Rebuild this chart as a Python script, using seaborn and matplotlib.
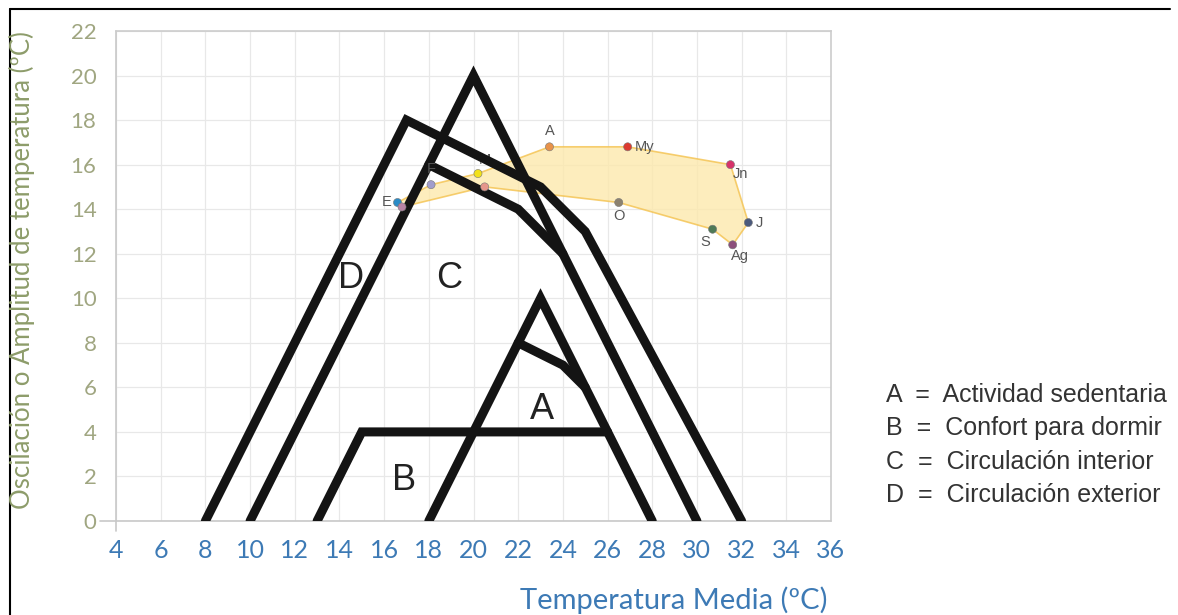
import numpy as np
import pandas as pd
import matplotlib.pyplot as plt
import seaborn as sns
from matplotlib.lines import Line2D

# zone outlines (temperatura media, oscilacion)
zone_d_x = [8, 17, 23, 25, 32]
zone_d_y = [0, 18, 15, 13, 0]
zone_c_x = [10, 20, 30]
zone_c_y = [0, 20, 0]
zone_c_inner_x = [18, 22, 24]
zone_c_inner_y = [16, 14, 12]
zone_a_x = [18, 23, 28]
zone_a_y = [0, 10, 0]
zone_a_inner_x = [22, 24, 25]
zone_a_inner_y = [8, 7, 6]
zone_b_x = [13, 15, 26]
zone_b_y = [0, 4, 4]

# monthly climate points
months = ["E", "F", "M", "A", "My", "Jn", "J", "Ag", "S", "O", "N", "D"]
temp_media = [16.6, 18.1, 20.2, 23.4, 26.9, 31.5, 32.3, 31.6, 30.7, 26.5, 20.5, 16.8]
oscilacion = [14.3, 15.1, 15.6, 16.8, 16.8, 16.0, 13.4, 12.4, 13.1, 14.3, 15.0, 14.1]
month_colors = ["#2b8bc6", "#a19dcc", "#f2e11a", "#e8924a", "#dc3a2f", "#d6336a",
                "#4b5a7c", "#8c4f7c", "#4f7a56", "#8c8270", "#e6968c", "#b883a6"]

zone_names = ["A", "B", "C", "D"]
zone_desc = ["Actividad sedentaria", "Confort para dormir",
             "Circulación interior", "Circulación exterior"]

x_ticks = list(range(4, 37, 2))
y_ticks = list(range(0, 23, 2))

sns.set_style("white")
plt.rcParams["font.family"] = ["Lato", "DejaVu Sans"]

fig = plt.figure(figsize=(11.78, 6.15), dpi=100)
ax = fig.add_axes([116 / 1178, 1 - 521 / 615, (831 - 116) / 1178, 490 / 615])

segments = [
    ("D", zone_d_x, zone_d_y), ("C", zone_c_x, zone_c_y),
    ("C2", zone_c_inner_x, zone_c_inner_y), ("A", zone_a_x, zone_a_y),
    ("A2", zone_a_inner_x, zone_a_inner_y), ("B", zone_b_x, zone_b_y),
]
lines_df = pd.concat([pd.DataFrame({"seg": s, "x": xs, "y": ys}) for s, xs, ys in segments],
                     ignore_index=True)

# yellow climate polygon
ax.fill(temp_media, oscilacion, facecolor="#fde9ad", edgecolor="#f4c24e",
        lw=1.2, alpha=0.8, zorder=2)

sns.lineplot(data=lines_df, x="x", y="y", units="seg", estimator=None, sort=False,
             color="#141414", lw=6.5, ax=ax, zorder=3,
             solid_joinstyle="miter", solid_capstyle="round")

sns.scatterplot(x=temp_media, y=oscilacion, hue=months, palette=month_colors,
                legend=False, s=34, edgecolor="#777777", linewidth=0.4,
                ax=ax, zorder=5)

label_offsets = {
    "E": (-4, 0, "right", "center"), "F": (0, 6, "center", "bottom"),
    "M": (5, 5, "center", "bottom"), "A": (0, 6, "center", "bottom"),
    "My": (5, 0, "left", "center"), "Jn": (2, -2, "left", "top"),
    "J": (5, 0, "left", "center"), "Ag": (-1, -3, "left", "top"),
    "S": (-2, -4, "right", "top"), "O": (0, -5, "center", "top"),
}
for m, tx, ty in zip(months, temp_media, oscilacion):
    if m not in label_offsets:
        continue
    dx, dy, ha, va = label_offsets[m]
    ax.annotate(m, (tx, ty), xytext=(dx, dy), textcoords="offset points",
                ha=ha, va=va, fontsize=10.5, color="#555555",
                family=["Liberation Sans", "DejaVu Sans"],
                zorder=2.5 if m == "M" else 6)

# zone letters
for letter, lx, ly in [("D", 14.5, 10.9), ("C", 18.9, 10.9), ("A", 23.05, 5.0), ("B", 16.9, 1.8)]:
    ax.text(lx, ly, letter, fontsize=26, color="#222222", ha="center", va="center",
            family=["Liberation Sans", "DejaVu Sans"], zorder=4)

ax.set_xlim(4, 36)
ax.set_ylim(0, 22)
ax.set_xticks(x_ticks)
ax.set_yticks(y_ticks)
ax.grid(True, color="#e8e8e8", lw=0.9)
ax.set_axisbelow(True)
ax.tick_params(axis="x", length=0, pad=13, labelsize=18, labelcolor="#3d7ab5")
ax.tick_params(axis="y", length=0, pad=14, labelsize=16, labelcolor="#a0a681")
ax.set_xlabel("")
ax.set_ylabel("")
for side in ["left", "bottom"]:
    ax.spines[side].set_visible(False)
for side in ["top", "right"]:
    ax.spines[side].set_color("#cccccc")
    ax.spines[side].set_linewidth(1.2)
ax.plot([3.3, 36], [0, 0], color="#c8c8c8", lw=1.2, clip_on=False, zorder=1)
ax.plot([4, 4], [-0.45, 22], color="#c8c8c8", lw=1.2, clip_on=False, zorder=1)

fig.text(828 / 1178, 1 - 600 / 615, "Temperatura Media (ºC)", ha="right", va="center",
         fontsize=21, color="#3d7ab5")
fig.text(22 / 1178, 1 - 270 / 615, "Oscilación o Amplitud de temperatura (ºC)",
         rotation=90, ha="center", va="center", fontsize=18.5, color="#8d9c6a")

for i, (name, desc) in enumerate(zip(zone_names, zone_desc)):
    fig.text(886 / 1178, 1 - (395 + i * 33.5) / 615, f"{name}  =  {desc}", ha="left",
             va="center", fontsize=18, color="#333333",
             family=["Liberation Sans", "DejaVu Sans"])

# picture frame
fig.add_artist(Line2D([10 / 1178, 1170 / 1178], [1 - 9 / 615] * 2, color="black",
                      lw=1.5, transform=fig.transFigure))
fig.add_artist(Line2D([10 / 1178] * 2, [0, 1 - 9 / 615], color="black",
                      lw=1.5, transform=fig.transFigure))

fig.savefig("out.png", dpi=100)
